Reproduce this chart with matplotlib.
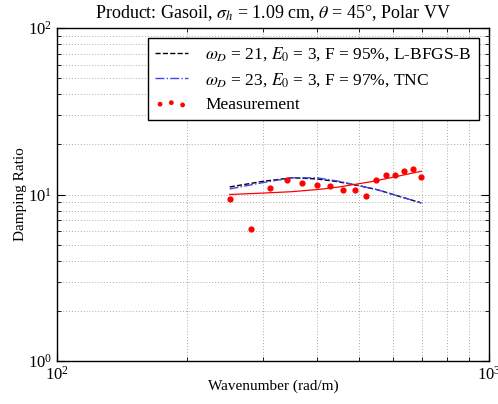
import matplotlib
matplotlib.use('Agg')
import matplotlib.pyplot as plt
from matplotlib.ticker import NullFormatter

plt.rcParams['font.family'] = ['Liberation Serif', 'DejaVu Serif']
plt.rcParams['mathtext.fontset'] = 'stix'

# measured damping ratio
meas_k = [251, 281, 311, 340, 370, 400, 429, 459, 489, 518, 547, 576, 607, 637, 666, 697]
meas_v = [9.45, 6.2, 11.0, 12.2, 11.7, 11.45, 11.2, 10.65, 10.65, 9.85, 12.2, 13.1, 13.05, 13.85, 14.3, 12.7]

# power-law fit to the measurement
fit_k = [251, 300, 350, 406, 450, 530, 600, 697]
fit_v = [10.0, 10.2, 10.4, 10.75, 11.1, 11.9, 12.7, 13.8]

# model curves
model_k = [251, 300, 350, 400, 450, 500, 550, 600, 650, 697]
lbfgs_v = [11.1, 12.0, 12.6, 12.4, 11.9, 11.3, 10.7, 10.0, 9.4, 8.9]
tnc_v = [10.8, 11.8, 12.6, 12.6, 12.0, 11.3, 10.7, 10.0, 9.4, 8.9]

fig = plt.figure(figsize=(4.98, 4.04), dpi=100)
ax = fig.add_axes([0.1145, 0.1064, 0.8675, 0.8243])

ax.plot(model_k, lbfgs_v, '--', color='black', lw=1.0,
        label=r'$\omega_D$ = 21, $E_0$ = 3, F = 95%, L-BFGS-B')
ax.plot(model_k, tnc_v, '-.', color='#4444ee', lw=1.0,
        label=r'$\omega_D$ = 23, $E_0$ = 3, F = 97%, TNC')
ax.scatter(meas_k, meas_v, s=12, color='red', zorder=3, label='Measurement')
ax.plot(fit_k, fit_v, '-', color='red', lw=0.9)

ax.set_xscale('log')
ax.set_yscale('log')
ax.set_xlim(100, 1000)
ax.set_ylim(1, 100)
ax.xaxis.set_minor_formatter(NullFormatter())
ax.yaxis.set_minor_formatter(NullFormatter())
ax.grid(True, which='both', linestyle=(0, (1, 2)), color='#aaaaaa', lw=0.7)
ax.tick_params(which='both', direction='in', top=True, right=True, labelsize=12)
ax.tick_params(which='major', length=6)
ax.tick_params(which='minor', length=3)
for s in ax.spines.values():
    s.set_linewidth(1.0)

ax.set_xlabel('Wavenumber (rad/m)', fontsize=11, labelpad=-3)
ax.set_ylabel('Damping Ratio', fontsize=11, labelpad=1)
ax.set_title(r'Product: Gasoil, $\sigma_h$ = 1.09 cm, $\theta$ = 45°, Polar VV',
             fontsize=13, pad=7)

leg = ax.legend(loc='upper right', fontsize=12.5, fancybox=False, edgecolor='black',
                framealpha=1, scatterpoints=3, borderaxespad=0.6,
                handlelength=1.9, handletextpad=1.0, labelspacing=0.45,
                markerscale=0.7)
leg.get_frame().set_linewidth(1.0)

fig.savefig('out.png', dpi=100)
